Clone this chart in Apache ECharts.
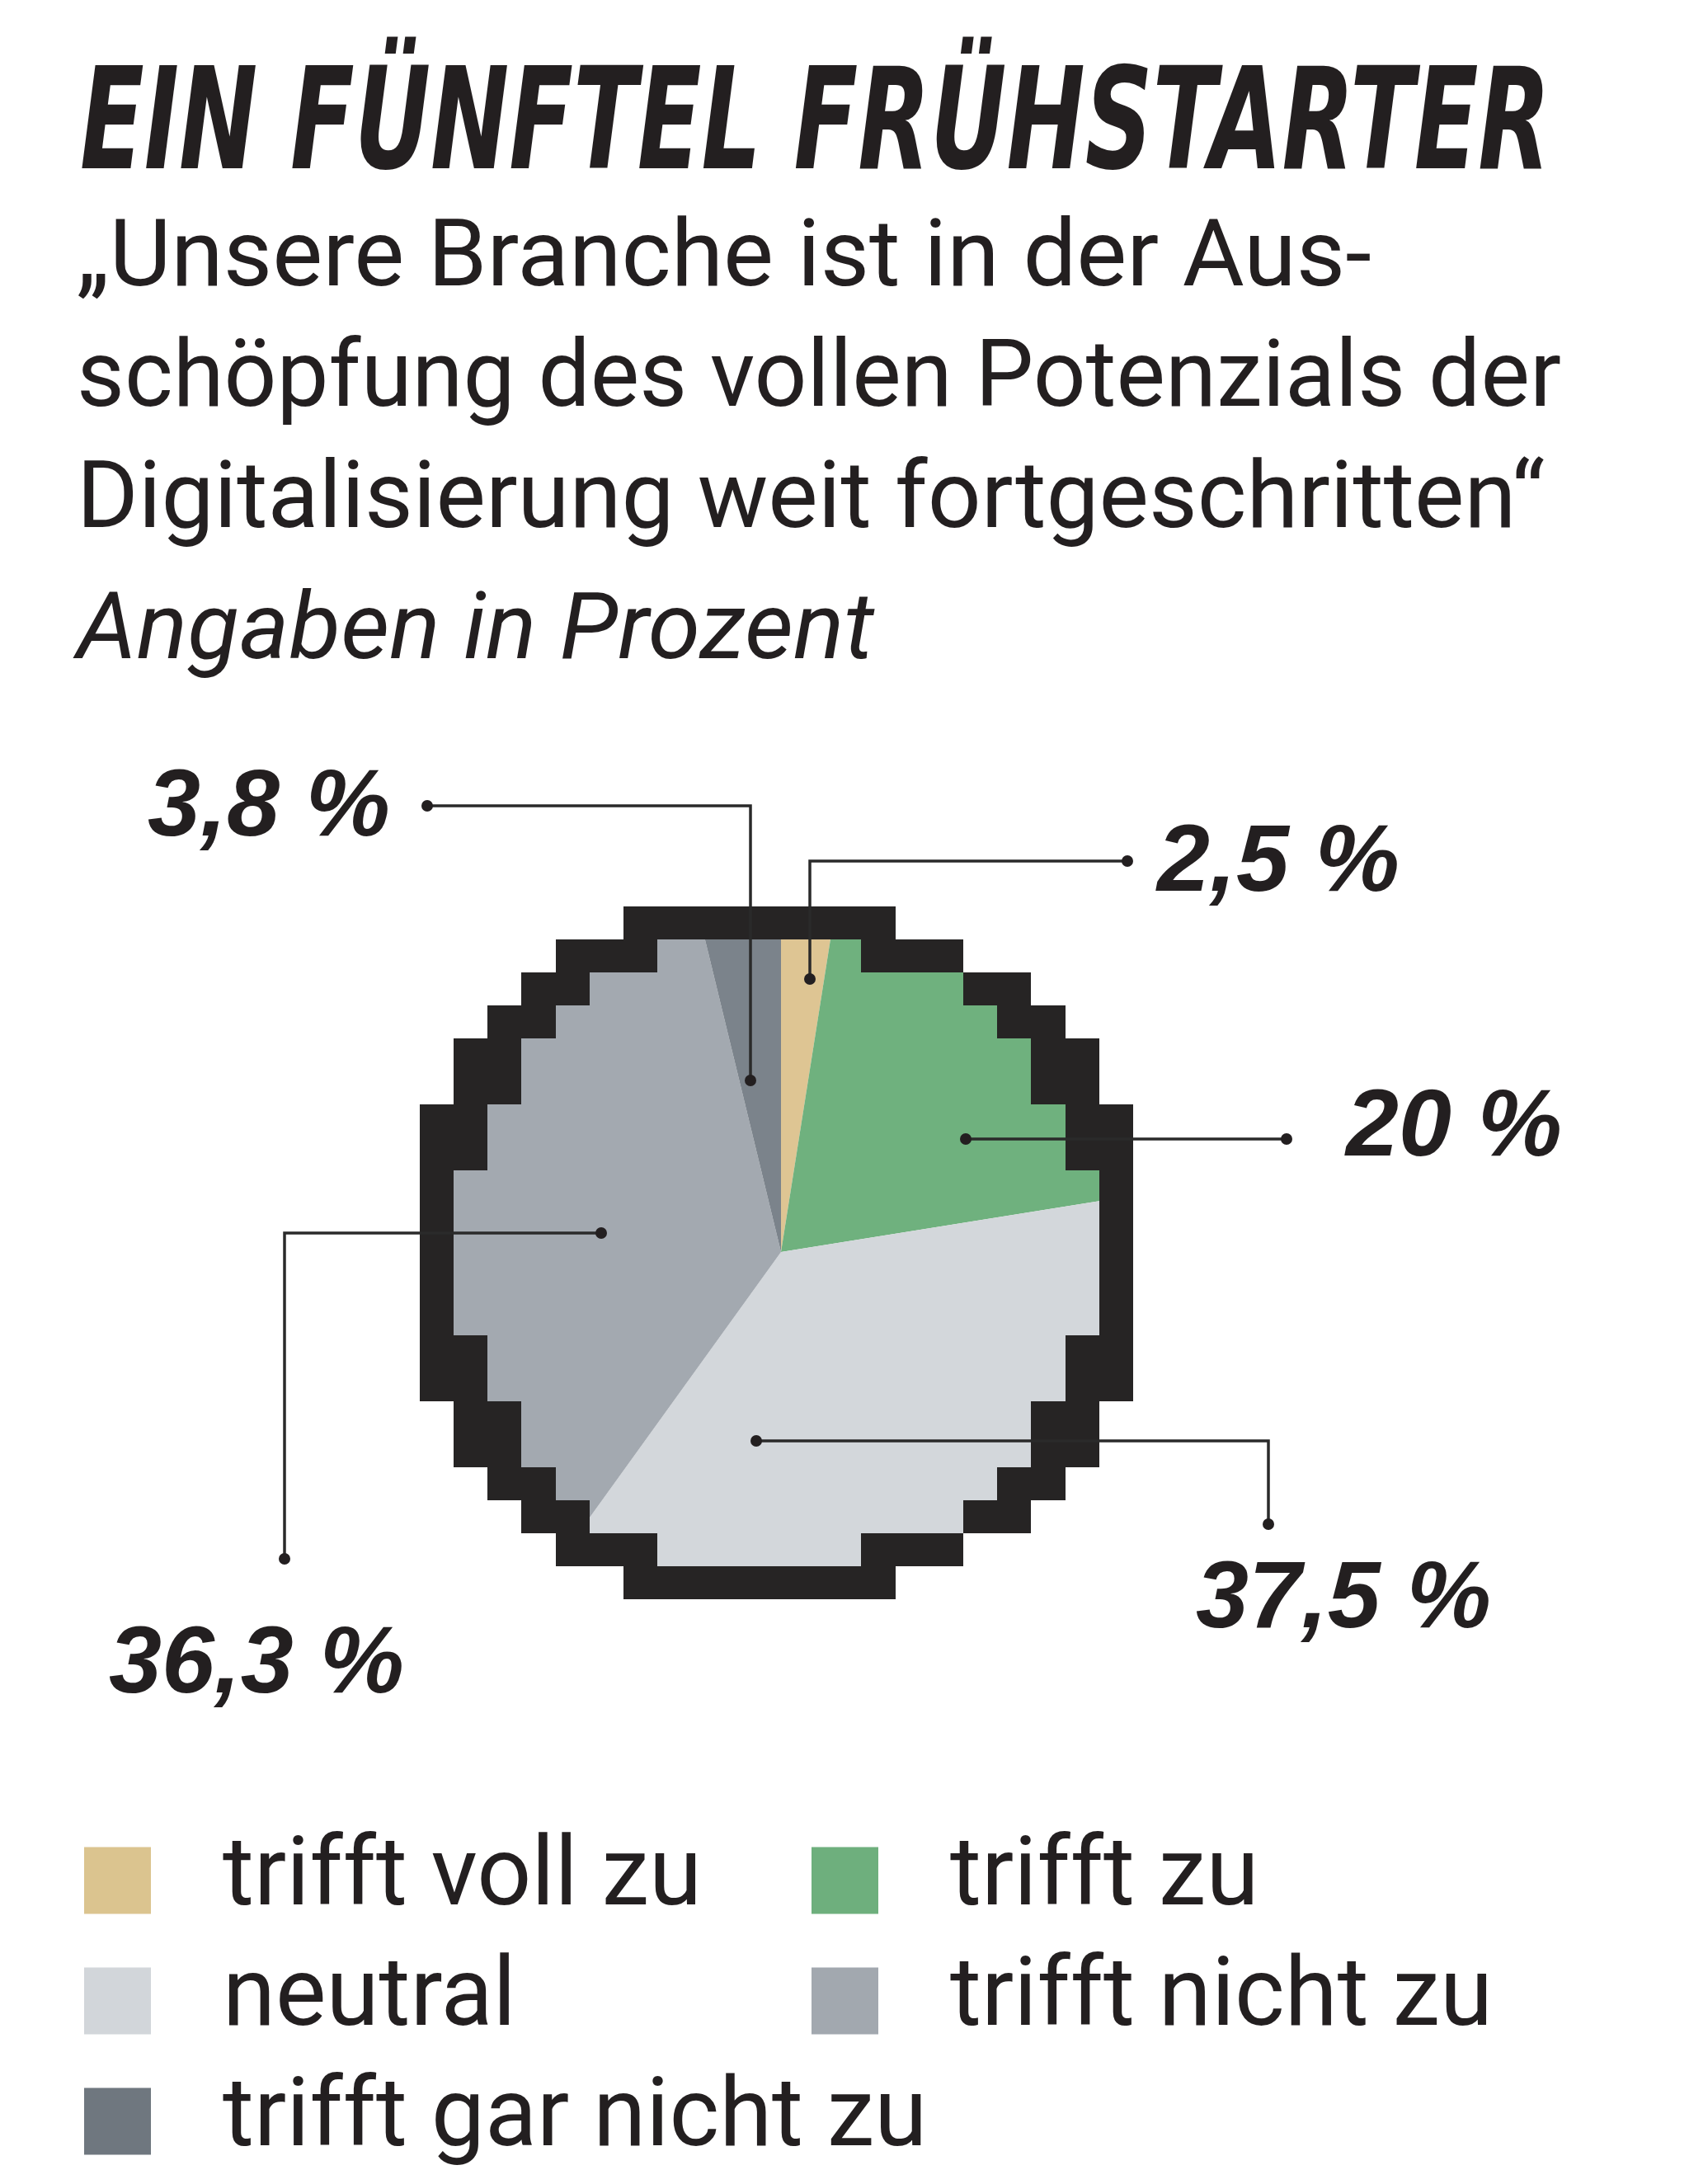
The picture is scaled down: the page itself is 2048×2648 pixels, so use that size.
<!DOCTYPE html>
<html><head><meta charset="utf-8">
<script src="https://cdn.jsdelivr.net/npm/echarts@6/dist/echarts.min.js"></script>
<style>html,body{margin:0;padding:0;background:#fff}#c{width:2048px;height:2648px}</style>
</head><body><div id="c"></div>
<script>
// ---- data ----
const categories = ['trifft voll zu', 'trifft zu', 'neutral', 'trifft nicht zu', 'trifft gar nicht zu'];
const values = [2.5, 20, 37.5, 36.3, 3.8];
const colors = ['#DEC593', '#6FB17E', '#D3D7DB', '#A3A9B0', '#7B838B'];
const legendColors = ['#DBC48F', '#6EAF7D', '#D2D6DA', '#A2A8AF', '#6F777F'];
const titleText = 'EIN FÜNFTEL FRÜHSTARTER';
const subtitleLines = ['„Unsere Branche ist in der Aus-', 'schöpfung des vollen Potenzials der', 'Digitalisierung weit fortgeschritten“'];
const noteText = 'Angaben in Prozent';

// ---- layout (not data) ----
const INK = '#231f20';
const PIE_C = [947, 1518], PIE_R = 416;
const annot = [
  { label: [1403, 1048], line: [[982, 1187], [982, 1044], [1367, 1044]] },
  { label: [1632, 1369], line: [[1171, 1381], [1560, 1381]] },
  { label: [1450, 1941], line: [[917, 1747], [1538, 1747], [1538, 1848]] },
  { label: [132, 2020], line: [[729, 1495], [345, 1495], [345, 1890]] },
  { label: [179, 981], line: [[518, 977], [910, 977], [910, 1310]] }
];
// legend slot per category: [left, top]
const legendPos = [[102, 2222], [984, 2222], [102, 2368], [984, 2368], [102, 2514]];
// stepped frame: [outerLeft, outerRight, innerLeft, innerRight] in cells
const frameRows = [
  [6, 14, null, null],
  [4, 16, 7, 13],
  [3, 18, 5, 16],
  [2, 19, 4, 17],
  [1, 20, 3, 18], [1, 20, 3, 18],
  [0, 21, 2, 19], [0, 21, 2, 19],
  [0, 21, 1, 20], [0, 21, 1, 20], [0, 21, 1, 20], [0, 21, 1, 20], [0, 21, 1, 20],
  [0, 21, 2, 19], [0, 21, 2, 19],
  [1, 20, 3, 18], [1, 20, 3, 18],
  [2, 19, 4, 17],
  [3, 18, 5, 16],
  [4, 16, 7, 13],
  [6, 14, null, null]
];
const GX0 = 508.7, GCW = 41.2, GY0 = 1098.8, GRH = 40;
const gx = c => Math.round(GX0 + c * GCW);
const gy = r => Math.round(GY0 + r * GRH);

function fmt(v) { return (Number.isInteger(v) ? String(v) : v.toFixed(1).replace('.', ',')) + ' %'; }

const mctx = document.createElement('canvas').getContext('2d');
function measure(text, style, weight, size, family) {
  mctx.font = style + ' ' + weight + ' ' + size + 'px "' + family + '"';
  return mctx.measureText(text).width;
}
function fitText(text, left, baseline, targetW, size, family, weight, fstyle) {
  const w = measure(text, fstyle, weight, size, family);
  return {
    type: 'text', x: left, y: baseline - 0.24 * size, scaleX: targetW / w, z: 10, silent: true,
    style: { text: text, fontSize: size, fontFamily: family, fontWeight: weight, fontStyle: fstyle, fill: INK, align: 'left', verticalAlign: 'middle' }
  };
}

const graphics = [];
graphics.push(fitText(titleText, 97, 201, 1783, 171, 'DejaVu Sans', 'bold', 'italic'));
const subBase = [345, 491, 638];
const subW = [1570, 1800, 1780];
subtitleLines.forEach((t, i) => graphics.push(fitText(t, 93, subBase[i], subW[i], 113, 'Roboto', 'normal', 'normal')));
graphics.push(fitText(noteText, 93, 797, 967, 113, 'Roboto', 'normal', 'italic'));

// frame: white masks outside, black ring
const MASK_L = 470, MASK_R = 1410;
frameRows.forEach((r, i) => {
  const y = gy(i), h = gy(i + 1) - y;
  const [oL, oR, iL, iR] = r;
  graphics.push({ type: 'rect', z: 100, silent: true, shape: { x: MASK_L, y: y, width: gx(oL) - MASK_L, height: h }, style: { fill: '#fff' } });
  graphics.push({ type: 'rect', z: 100, silent: true, shape: { x: gx(oR), y: y, width: MASK_R - gx(oR), height: h }, style: { fill: '#fff' } });
  if (iL === null) {
    graphics.push({ type: 'rect', z: 101, silent: true, shape: { x: gx(oL), y: y, width: gx(oR) - gx(oL), height: h }, style: { fill: '#262424' } });
  } else {
    graphics.push({ type: 'rect', z: 101, silent: true, shape: { x: gx(oL), y: y, width: gx(iL) - gx(oL), height: h }, style: { fill: '#262424' } });
    graphics.push({ type: 'rect', z: 101, silent: true, shape: { x: gx(iR), y: y, width: gx(oR) - gx(iR), height: h }, style: { fill: '#262424' } });
  }
});
// leader lines + dots
annot.forEach(a => {
  graphics.push({ type: 'polyline', z: 120, silent: true, shape: { points: a.line }, style: { stroke: '#2a2a2a', lineWidth: 3.5, fill: null } });
  [a.line[0], a.line[a.line.length - 1]].forEach(p => {
    graphics.push({ type: 'circle', z: 130, silent: true, shape: { cx: p[0], cy: p[1], r: 7 }, style: { fill: INK } });
  });
});

const legends = categories.map((c, i) => ({
  data: [{ name: c, itemStyle: { color: legendColors[i] } }], left: legendPos[i][0], top: legendPos[i][1],
  orient: 'vertical', icon: 'rect', itemWidth: 81, itemHeight: 81, itemGap: 0, selectedMode: false, padding: 0,
  textStyle: { fontFamily: 'Roboto', fontSize: 116, color: INK, padding: [0, 0, 0, 82], lineHeight: 81, height: 81 }
}));

const chart = echarts.init(document.getElementById('c'), null, { renderer: 'canvas' });
chart.setOption({
  backgroundColor: '#fff',
  animation: false,
  legend: legends,
  series: [{
    type: 'pie',
    center: PIE_C,
    radius: [0, PIE_R],
    startAngle: 90,
    clockwise: true,
    silent: true,
    avoidLabelOverlap: false,
    itemStyle: { borderWidth: 0 },
    emphasis: { disabled: true },
    data: categories.map((c, i) => ({ name: c, value: values[i], itemStyle: { color: colors[i] } })),
    label: {
      show: true, position: 'outside',
      formatter: p => fmt(p.value),
      fontFamily: 'Liberation Sans', fontWeight: 'bold', fontStyle: 'italic', fontSize: 115, color: INK
    },
    labelLine: { show: false },
    labelLayout: p => {
      const a = annot[p.dataIndex];
      return { x: a.label[0], y: a.label[1], align: 'left', verticalAlign: 'middle' };
    }
  }],
  graphic: { elements: graphics }
});
</script>
</body></html>
